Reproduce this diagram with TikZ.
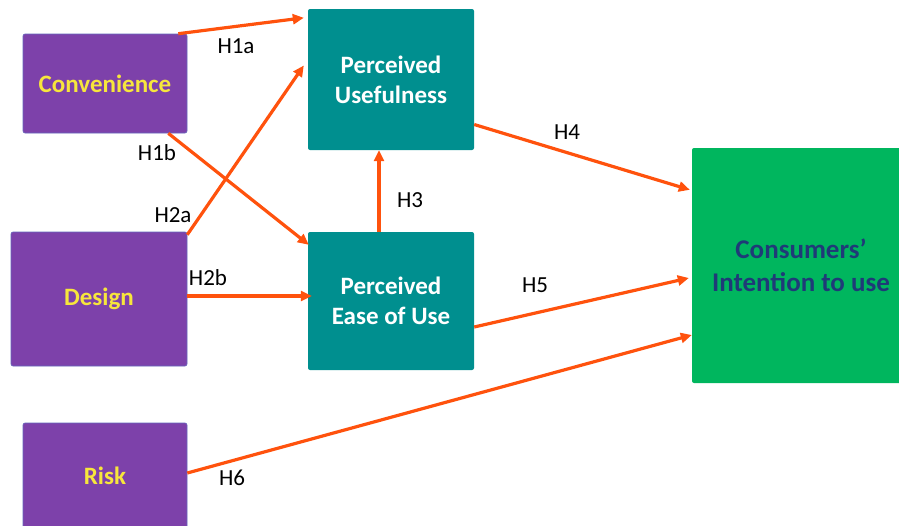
\documentclass[tikz,border=0pt]{standalone}
\usepackage{fontspec}
\setmainfont{Carlito}
\usetikzlibrary{arrows.meta}
\definecolor{factor}{HTML}{7D41AA}
\definecolor{factortext}{HTML}{F7E63C}
\definecolor{tam}{HTML}{008F8F}
\definecolor{intent}{HTML}{00B65E}
\definecolor{intenttext}{HTML}{1F3A78}
\definecolor{hyp}{HTML}{FF520D}
\begin{document}
\begin{tikzpicture}[x=1pt,y=-1pt,
    box/.style={rounded corners=2pt,inner sep=0pt,align=center,
        font=\fontsize{25}{30}\selectfont\bfseries},
    factorbox/.style={box,fill=factor,draw=factor!80!cyan,line width=0.6pt,text=factortext},
    tambox/.style={box,fill=tam,text=white},
    link/.style={draw=hyp,line width=3.2pt,-{Triangle[length=11pt,width=10pt]}},
    hlabel/.style={font=\fontsize{23}{27}\selectfont}]
\useasboundingbox (0,0) rectangle (899,525);

\node[factorbox,minimum width=164pt,minimum height=99pt] (conv) at (105,83.5) {Convenience};
\node[factorbox,minimum width=176pt,minimum height=134pt] (design) at (99,299) {Design};
\node[factorbox,minimum width=164pt,minimum height=106pt] (risk) at (105,476) {Risk};

\node[tambox,minimum width=166pt,minimum height=141pt] (pu) at (391,79.5) {Perceived\\Usefulness};
\node[tambox,minimum width=166pt,minimum height=138pt] (peou) at (391,301) {Perceived\\Ease of Use};

\node[box,font=\fontsize{27}{33}\selectfont\bfseries,fill=intent,text=intenttext,
    minimum width=218pt,minimum height=235pt] (ci) at (801,265.5) {Consumers’\\Intention to use};

\draw[link] ([xshift=-9pt]conv.north east) -- ([xshift=-4pt,yshift=-9pt]pu.north west);
\draw[link] ([xshift=-19pt]conv.south east) -- ([xshift=1pt,yshift=-13pt]peou.north west);
\draw[link] ([yshift=-3pt]design.north east) -- ([xshift=-4pt,yshift=14pt]pu.west);
\draw[link] ([yshift=3pt]design.east) -- ([xshift=4pt,yshift=5pt]peou.west);
\draw[link] ([xshift=-12pt]peou.north) -- ([xshift=-12pt]pu.south);
\draw[link] ([yshift=-45pt]pu.east) -- ([xshift=-2pt,yshift=-42pt]ci.north west);
\draw[link] ([yshift=-26pt]peou.east) -- ([xshift=-3pt,yshift=-12.5pt]ci.west);
\draw[link] ([yshift=3pt]risk.east) -- ([yshift=-69.5pt]ci.west);

\node[hlabel] (h1a) at (236,46) {H1a};
\node[hlabel] (h1b) at (157,153) {H1b};
\node[hlabel] (h2a) at (173,215) {H2a};
\node[hlabel] (h2b) at (208,278) {H2b};
\node[hlabel] (h3) at (410,200) {H3};
\node[hlabel] (h4) at (567,132) {H4};
\node[hlabel] (h5) at (535,285) {H5};
\node[hlabel] (h6) at (232,478) {H6};
\end{tikzpicture}
\end{document}
